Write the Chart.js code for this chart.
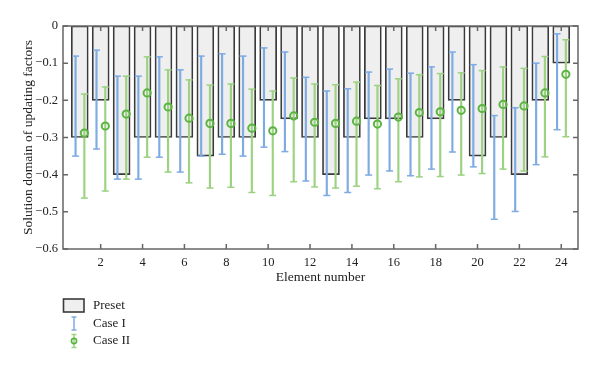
<!DOCTYPE html>
<html><head><meta charset="utf-8">
<script src="https://cdn.jsdelivr.net/npm/chart.js@4.4.1/dist/chart.umd.min.js"></script>
<style>html,body{margin:0;padding:0;background:#fff;}#wrap{width:600px;height:369px;}</style>
</head><body><div id="wrap"><canvas id="c" width="600" height="369"></canvas></div>
<script>
// ---- data ----
const elements = [1,2,3,4,5,6,7,8,9,10,11,12,13,14,15,16,17,18,19,20,21,22,23,24];
const preset = [-0.3,-0.2,-0.4,-0.3,-0.3,-0.3,-0.35,-0.3,-0.3,-0.2,-0.25,-0.3,-0.4,-0.3,-0.25,-0.25,-0.3,-0.25,-0.2,-0.35,-0.3,-0.4,-0.2,-0.1];
const case1High = [-0.081,-0.065,-0.135,-0.135,-0.083,-0.118,-0.081,-0.075,-0.081,-0.059,-0.07,-0.138,-0.175,-0.169,-0.124,-0.116,-0.127,-0.11,-0.07,-0.104,-0.241,-0.22,-0.1,-0.021];
const case1Low = [-0.35,-0.331,-0.412,-0.412,-0.353,-0.393,-0.35,-0.345,-0.35,-0.326,-0.338,-0.417,-0.456,-0.448,-0.401,-0.39,-0.403,-0.385,-0.339,-0.379,-0.52,-0.499,-0.373,-0.279];
const case2High = [-0.183,-0.164,-0.135,-0.083,-0.118,-0.145,-0.159,-0.156,-0.17,-0.175,-0.14,-0.156,-0.158,-0.151,-0.16,-0.142,-0.131,-0.128,-0.126,-0.12,-0.11,-0.114,-0.082,-0.037];
const case2Mid = [-0.288,-0.269,-0.237,-0.18,-0.218,-0.248,-0.262,-0.262,-0.275,-0.282,-0.242,-0.259,-0.262,-0.256,-0.264,-0.245,-0.233,-0.231,-0.227,-0.222,-0.211,-0.215,-0.18,-0.13];
const case2Low = [-0.463,-0.444,-0.412,-0.353,-0.393,-0.422,-0.436,-0.434,-0.448,-0.456,-0.419,-0.433,-0.436,-0.431,-0.438,-0.419,-0.406,-0.405,-0.401,-0.397,-0.385,-0.39,-0.352,-0.298];
const xTickValues = [2,4,6,8,10,12,14,16,18,20,22,24];
const yTickValues = [0,-0.1,-0.2,-0.3,-0.4,-0.5,-0.6];
const seriesNames = ['Preset','Case I','Case II'];
const xTitle = 'Element number';
const yTitle = 'Solution domain of updating factors';

// ---- style ----
const FONT = "'Liberation Serif','Times New Roman',serif";
const offI = -0.2, offII = 0.22;
const blue = '#7fabe3', greenLine = '#9dd283', greenMark = '#5cb543';
const barFill = '#efefef', barEdge = '#3a3a3a', axisCol = '#666';

Chart.defaults.font.family = FONT;
Chart.defaults.color = '#222';

const presetData = elements.map((e,i)=>({x:e, y:preset[i]}));
const err1 = elements.map((e,i)=>({x:e+offI, y:[case1Low[i], case1High[i]]}));
const cap1 = elements.flatMap((e,i)=>[{x:e+offI, y:case1Low[i]},{x:e+offI, y:case1High[i]}]);
const err2 = elements.map((e,i)=>({x:e+offII, y:[case2Low[i], case2High[i]]}));
const cap2 = elements.flatMap((e,i)=>[{x:e+offII, y:case2Low[i]},{x:e+offII, y:case2High[i]}]);
const mid2 = elements.map((e,i)=>({x:e+offII, y:case2Mid[i]}));

const framePlugin = {
  id:'frame',
  afterDatasetsDraw(chart){
    const {ctx, chartArea:a, scales:{x,y}} = chart;
    ctx.save();
    ctx.strokeStyle = axisCol; ctx.lineWidth = 1.5;
    ctx.strokeRect(a.left, a.top, a.right-a.left, a.bottom-a.top);
    const L = 5;
    ctx.beginPath();
    x.ticks.forEach(t=>{const p=x.getPixelForValue(t.value);
      ctx.moveTo(p,a.bottom); ctx.lineTo(p,a.bottom-L);
      ctx.moveTo(p,a.top); ctx.lineTo(p,a.top+L);});
    y.ticks.forEach(t=>{const p=y.getPixelForValue(t.value);
      ctx.moveTo(a.left,p); ctx.lineTo(a.left+L,p);
      ctx.moveTo(a.right,p); ctx.lineTo(a.right-L,p);});
    ctx.stroke();
    ctx.restore();
  },
  afterDraw(chart){
    const ctx = chart.ctx;
    ctx.save();
    ctx.fillStyle = barFill; ctx.strokeStyle = barEdge; ctx.lineWidth = 1.6;
    ctx.fillRect(63.5,299,20.5,13); ctx.strokeRect(63.5,299,20.5,13);
    ctx.strokeStyle = blue; ctx.lineWidth = 1.5;
    ctx.beginPath();
    ctx.moveTo(74,317); ctx.lineTo(74,330);
    ctx.moveTo(71.5,317); ctx.lineTo(76.5,317);
    ctx.moveTo(71.5,330); ctx.lineTo(76.5,330);
    ctx.stroke();
    ctx.strokeStyle = greenLine;
    ctx.beginPath();
    ctx.moveTo(74,334.5); ctx.lineTo(74,347.5);
    ctx.moveTo(71.5,334.5); ctx.lineTo(76.5,334.5);
    ctx.moveTo(71.5,347.5); ctx.lineTo(76.5,347.5);
    ctx.stroke();
    ctx.strokeStyle = greenMark; ctx.lineWidth = 1.6;
    ctx.beginPath(); ctx.arc(74,341,2.6,0,Math.PI*2); ctx.stroke();
    ctx.fillStyle = '#222'; ctx.font = "13px " + FONT; ctx.textBaseline = 'middle'; ctx.textAlign='left';
    ctx.fillText(seriesNames[0], 93, 306);
    ctx.fillText(seriesNames[1], 93, 323.5);
    ctx.fillText(seriesNames[2], 93, 341);
    ctx.restore();
  }
};

new Chart(document.getElementById('c'), {
  type:'bar',
  data:{ datasets:[
    {type:'scatter', label:'Case II mid', data:mid2, order:0, pointStyle:'circle', pointRadius:3.6, pointBorderWidth:2, borderColor:greenMark, backgroundColor:'rgba(0,0,0,0)', pointHoverRadius:3.6},
    {type:'scatter', label:'Case II caps', data:cap2, order:1, pointStyle:'line', pointRadius:3.5, pointBorderWidth:1.5, borderColor:greenLine, backgroundColor:greenLine},
    {type:'scatter', label:'Case I caps', data:cap1, order:1, pointStyle:'line', pointRadius:3.5, pointBorderWidth:1.5, borderColor:blue, backgroundColor:blue},
    {type:'bar', label:'Case II', data:err2, order:2, grouped:false, barThickness:1.5, backgroundColor:greenLine, borderWidth:0},
    {type:'bar', label:'Case I', data:err1, order:2, grouped:false, barThickness:1.5, backgroundColor:blue, borderWidth:0},
    {type:'bar', label:'Preset', data:presetData, order:3, grouped:false, barThickness:17, backgroundColor:barFill, borderColor:barEdge, borderWidth:1.7, borderSkipped:false}
  ]},
  options:{
    responsive:false, animation:false, events:[],
    layout:{padding:{left:0, right:22, top:26, bottom:83}},
    plugins:{legend:{display:false}, tooltip:{enabled:false}},
    scales:{
      x:{type:'linear', min:0.2, max:24.8, offset:false,
        grid:{display:false, drawTicks:false}, border:{display:false},
        afterBuildTicks:s=>{s.ticks = xTickValues.map(v=>({value:v}));},
        afterFit:s=>{s.height = 37;},
        ticks:{padding:6, font:{size:12.5}, color:'#222', maxRotation:0, autoSkip:false, callback:v=>String(v)},
        title:{display:true, text:xTitle, font:{size:13.5}, color:'#222', padding:{top:0, bottom:0}}},
      y:{type:'linear', min:-0.6, max:0,
        grid:{display:false, drawTicks:false}, border:{display:false},
        afterBuildTicks:s=>{s.ticks = yTickValues.map(v=>({value:v}));},
        afterFit:s=>{s.width = 63;},
        ticks:{padding:5, font:{size:12.5}, color:'#222', callback:v=> v===0 ? '0' : '\u2212'+Math.abs(v).toFixed(1)},
        title:{display:true, text:yTitle, font:{size:13.5}, color:'#222', padding:{top:20, bottom:0}}}
    }
  },
  plugins:[framePlugin]
});
</script></body></html>
